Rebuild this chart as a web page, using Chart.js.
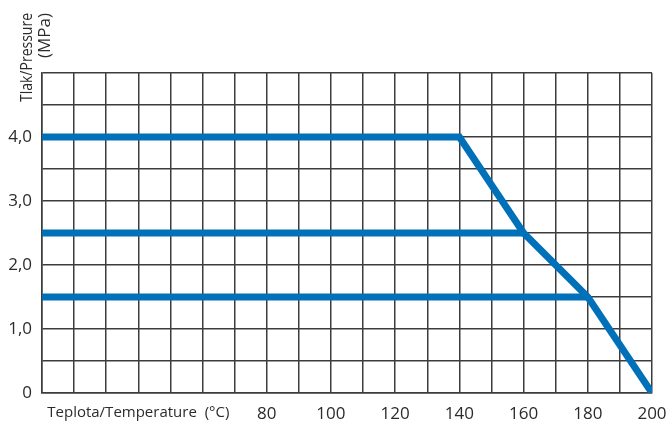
<!DOCTYPE html>
<html>
<head>
<meta charset="utf-8">
<script src="https://cdn.jsdelivr.net/npm/chart.js@4"></script>
<style>
  body { margin: 0; background: #fff; }
</style>
</head>
<body>
<canvas id="chart" width="671" height="423"></canvas>
<script>
// Curve 1: 4,0 MPa line, then the falling limit
const tempA = [10, 140, 160, 180, 200];
const pressA = [4, 4, 2.5, 1.5, 0];
// Curve 2: 2,5 MPa line
const tempB = [10, 160];
const pressB = [2.5, 2.5];
// Curve 3: 1,5 MPa line
const tempC = [10, 180];
const pressC = [1.5, 1.5];

// Tick labels
const xTickValues = [40, 80, 100, 120, 140, 160, 180, 200];
const xTickLabels = ['Teplota/Temperature  (°C)', '80', '100', '120', '140', '160', '180', '200'];
const yTickValues = [0, 1, 2, 3, 4];
const yTickLabels = ['0', '1,0', '2,0', '3,0', '4,0'];
const yTitle = ['Tlak/Pressure', '(MPa)'];

const blue = '#0071b9';
const gridColor = '#3c3c3c';
const textColor = '#2b2b2b';

function toPoints(xs, ys) {
    return xs.map((x, i) => ({ x: x, y: ys[i] }));
}

function lineSet(xs, ys) {
    return {
        data: toPoints(xs, ys),
        borderColor: blue,
        borderWidth: 7,
        borderJoinStyle: 'miter',
        borderCapStyle: 'butt',
        pointRadius: 0,
        tension: 0,
        fill: false
    };
}

// Rotated y title at the top left (narrow face, so squeeze it a bit)
const yTitlePlugin = {
    id: 'yTitle',
    afterDraw(chart) {
        const ctx = chart.ctx;
        ctx.save();
        ctx.fillStyle = textColor;
        ctx.font = '17px "Open Sans"';
        ctx.textAlign = 'right';
        ctx.textBaseline = 'alphabetic';
        ctx.translate(0, 13);
        ctx.rotate(-Math.PI / 2);
        ctx.fillText(yTitle[0], 0, 32, 89);
        ctx.fillText(yTitle[1], 0, 50, 47);
        ctx.restore();
    }
};

new Chart(document.getElementById('chart'), {
    type: 'line',
    data: {
        datasets: [lineSet(tempA, pressA), lineSet(tempB, pressB), lineSet(tempC, pressC)]
    },
    plugins: [yTitlePlugin],
    options: {
        responsive: false,
        animation: false,
        layout: { padding: { top: 73, right: 19, left: 0, bottom: 0 } },
        plugins: {
            legend: { display: false },
            tooltip: { enabled: false }
        },
        scales: {
            x: {
                type: 'linear',
                min: 10,
                max: 200,
                afterFit(axis) {
                    axis.height = 30;
                    // the layout padding already leaves room for the end labels
                    axis.paddingLeft = 0;
                    axis.paddingRight = 0;
                },
                border: { color: gridColor, width: 1.5 },
                grid: { color: gridColor, lineWidth: 1.5, drawTicks: false },
                ticks: {
                    stepSize: 10,
                    autoSkip: false,
                    maxRotation: 0,
                    padding: 11,
                    color: textColor,
                    font: (c) => ({ family: 'Open Sans', size: c.tick && c.tick.value === 40 ? 15 : 17 }),
                    callback: (v) => {
                        const i = xTickValues.indexOf(v);
                        return i >= 0 ? xTickLabels[i] : '';
                    }
                }
            },
            y: {
                min: 0,
                max: 5,
                afterFit(axis) {
                    axis.width = 42;
                    axis.paddingTop = 0;
                    axis.paddingBottom = 0;
                },
                border: { color: gridColor, width: 1.5 },
                grid: { color: gridColor, lineWidth: 1.5, drawTicks: false },
                ticks: {
                    stepSize: 0.5,
                    autoSkip: false,
                    padding: 10,
                    color: textColor,
                    font: { family: 'Open Sans', size: 17 },
                    callback: (v) => {
                        const i = yTickValues.indexOf(v);
                        return i >= 0 ? yTickLabels[i] : '';
                    }
                }
            }
        }
    }
});
</script>
</body>
</html>
